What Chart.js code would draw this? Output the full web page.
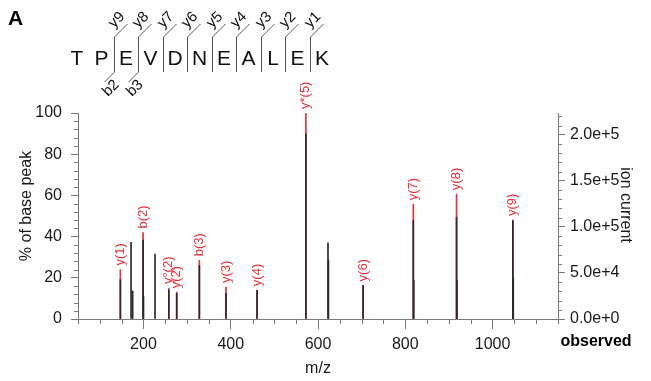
<!DOCTYPE html>
<html>
<head>
<meta charset="utf-8">
<script src="https://cdn.jsdelivr.net/npm/chart.js@4.4.1/dist/chart.umd.min.js"></script>
<style>
  html, body { margin: 0; padding: 0; background: #fff; }
  #wrap { width: 651px; height: 381px; position: relative; }
</style>
</head>
<body>
<div id="wrap"><canvas id="spectrum"></canvas></div>
<script>
// peptide and the fragments that were matched
const sequence = ['T', 'P', 'E', 'V', 'D', 'N', 'E', 'A', 'L', 'E', 'K'];
const yIons = [9, 8, 7, 6, 5, 4, 3, 2, 1];
const bIons = [2, 3];

// annotated peaks (red)
const annotatedMz = [147.1, 199.1, 258.1, 276.2, 328.1, 389.2, 460.3, 572.3, 703.4, 818.4, 917.5, 1046.5];
const annotatedLabels = ['y(1)', 'b(2)', 'y°(2)', 'y(2)', 'b(3)', 'y(3)', 'y(4)', 'y*(5)', 'y(6)', 'y(7)', 'y(8)', 'y(9)'];
const annotatedIntensity = [24, 42, 15, 13, 28.5, 15.5, 14, 100, 16.3, 55.7, 60.6, 48];

// observed peaks (black, drawn over the red ones)
const observedMz = [147.1, 171.6, 175.3, 199.1, 200.1, 226.5, 258.1, 276.2, 328.1, 389.2, 460.3, 572.3,
  622.9, 623.9, 703.4, 818.4, 819.4, 917.5, 918.5, 1046.5, 1047.5];
const observedIntensity = [19.1, 37.2, 13.6, 38.3, 11, 31.5, 14, 12.5, 26, 12.6, 13.9, 89.8,
  37, 28.5, 16.3, 48, 18.8, 49.4, 18.8, 47.6, 20];

// axes
const xTicks = [200, 400, 600, 800, 1000];
const yTicks = [0, 20, 40, 60, 80, 100];
const ionTicks = [0, 50000, 100000, 150000, 200000];
const ionCurrentMax = 223600; // ion current at 100 % of base peak

const fontFamily = '"Liberation Sans", Arial, Helvetica, sans-serif';
const axisGrey = '#7a7a7a';
const textColor = '#1a1a1a';
const peakRed = '#e8303a';

const decor = {
  id: 'decor',
  afterDraw(chart) {
    const c = chart.ctx;
    const x = chart.scales.x, y = chart.scales.y, y2 = chart.scales.y2;
    const area = chart.chartArea;
    c.save();

    // minor ticks
    c.strokeStyle = axisGrey;
    c.lineWidth = 1;
    c.beginPath();
    for (let v = 50; v <= 1150; v += 50) {
      if (v % 200 === 0) continue;
      const px = Math.round(x.getPixelForValue(v)) + 0.5;
      c.moveTo(px, area.bottom);
      c.lineTo(px, area.bottom + 5);
    }
    for (let v = 0; v <= 100; v += 4) {
      if (v % 20 === 0) continue;
      const py = Math.round(y.getPixelForValue(v)) + 0.5;
      c.moveTo(area.left - 4, py);
      c.lineTo(area.left, py);
    }
    for (let v = 0; v <= 220000; v += 10000) {
      if (v % 50000 === 0) continue;
      const py = Math.round(y2.getPixelForValue(v)) + 0.5;
      c.moveTo(area.right, py);
      c.lineTo(area.right + 4, py);
    }
    c.stroke();

    // peak labels
    c.font = '13px ' + fontFamily;
    c.fillStyle = peakRed;
    c.textAlign = 'left';
    c.textBaseline = 'middle';
    annotatedMz.forEach((mz, i) => {
      const px = x.getPixelForValue(mz);
      const py = y.getPixelForValue(annotatedIntensity[i]) - 4;
      c.save();
      c.translate(px, py);
      c.rotate(-Math.PI / 2);
      c.fillText(annotatedLabels[i], 0, 0);
      c.restore();
    });

    // panel letter
    c.fillStyle = '#000';
    c.font = 'bold 21px ' + fontFamily;
    c.textBaseline = 'alphabetic';
    c.fillText('A', 8, 25);

    // peptide sequence with fragment marks
    const seqX0 = 77, seqStep = 24.5;
    c.font = '21px ' + fontFamily;
    c.textAlign = 'center';
    c.fillStyle = '#111';
    sequence.forEach((r, i) => c.fillText(r, seqX0 + i * seqStep, 65));

    c.strokeStyle = '#555';
    c.font = '15px ' + fontFamily;
    c.fillStyle = '#111';
    yIons.forEach(n => {
      const lx = Math.round(seqX0 + (sequence.length - n - 0.5) * seqStep) + 0.5;
      c.beginPath();
      c.moveTo(lx, 72);
      c.lineTo(lx, 37);
      c.lineTo(lx + 13, 24);
      c.stroke();
      c.save();
      c.translate(lx + 2, 31);
      c.rotate(-Math.PI / 4);
      c.textAlign = 'left';
      c.textBaseline = 'bottom';
      c.fillText('y' + n, 0, 0);
      c.restore();
    });
    bIons.forEach(n => {
      const lx = Math.round(seqX0 + (n - 0.5) * seqStep) + 0.5;
      c.beginPath();
      c.moveTo(lx, 72);
      c.lineTo(lx - 10, 82);
      c.stroke();
      c.save();
      c.translate(lx - 3, 77);
      c.rotate(-Math.PI / 4);
      c.textAlign = 'right';
      c.textBaseline = 'top';
      c.fillText('b' + n, 0, 0);
      c.restore();
    });

    // axis titles
    c.font = '16px ' + fontFamily;
    c.fillStyle = textColor;
    c.textAlign = 'center';
    c.textBaseline = 'middle';
    c.save();
    c.translate(27, 206);
    c.rotate(-Math.PI / 2);
    c.fillText('% of base peak', 0, 0);
    c.restore();
    c.save();
    c.translate(625, 205);
    c.rotate(Math.PI / 2);
    c.fillText('ion current', 0, 0);
    c.restore();

    c.font = 'bold 16px ' + fontFamily;
    c.fillStyle = '#000';
    c.fillText('observed', 596, 342);

    c.restore();
  }
};

const tickFont = { family: fontFamily, size: 16 };

new Chart(document.getElementById('spectrum'), {
  type: 'bar',
  data: {
    datasets: [
      {
        label: 'observed',
        data: observedMz.map((m, i) => ({ x: m, y: observedIntensity[i] })),
        backgroundColor: '#2a2a2a',
        barThickness: 1,
        grouped: false
      },
      {
        label: 'annotated',
        data: annotatedMz.map((m, i) => ({ x: m, y: annotatedIntensity[i] })),
        backgroundColor: peakRed,
        barThickness: 1,
        grouped: false
      }
    ]
  },
  options: {
    responsive: true,
    maintainAspectRatio: false,
    animation: false,
    devicePixelRatio: 1,
    layout: { padding: { top: 113, left: 0, right: 0, bottom: 0 } },
    plugins: { legend: { display: false }, tooltip: { enabled: false } },
    scales: {
      x: {
        type: 'linear',
        min: 50,
        max: 1150,
        offset: false,
        afterBuildTicks: s => { s.ticks = xTicks.map(v => ({ value: v })); },
        afterFit: s => { s.height = 62; },
        grid: { drawOnChartArea: false, tickLength: 10, color: axisGrey, offset: false },
        border: { color: axisGrey },
        ticks: { font: tickFont, color: textColor, padding: 6, maxRotation: 0, callback: v => String(v) },
        title: { display: true, text: 'm/z', font: tickFont, color: textColor, padding: { top: 0, bottom: 3 } }
      },
      y: {
        position: 'left',
        min: 0,
        max: 100,
        afterBuildTicks: s => { s.ticks = yTicks.map(v => ({ value: v })); },
        afterFit: s => { s.width = 78; },
        grid: { drawOnChartArea: false, tickLength: 7, color: axisGrey },
        border: { color: axisGrey },
        ticks: { font: tickFont, color: textColor, padding: 9 }
      },
      y2: {
        position: 'right',
        min: 0,
        max: ionCurrentMax,
        afterBuildTicks: s => { s.ticks = ionTicks.map(v => ({ value: v })); },
        afterFit: s => { s.width = 93; },
        grid: { drawOnChartArea: false, tickLength: 7, color: axisGrey },
        border: { color: axisGrey },
        ticks: { font: tickFont, color: textColor, padding: 5, callback: v => v.toExponential(1) }
      }
    }
  },
  plugins: [decor]
});
</script>
</body>
</html>
